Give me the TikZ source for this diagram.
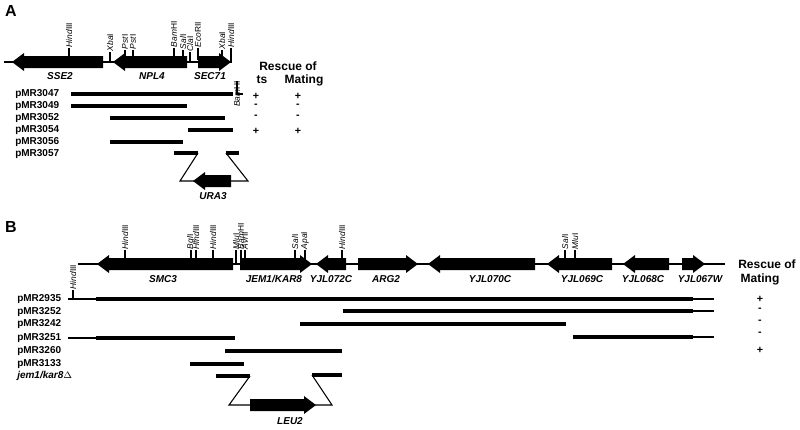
\documentclass[tikz,border=0pt]{standalone}
\usepackage{fontspec}
\setmainfont{Liberation Sans}
\begin{document}
\begin{tikzpicture}[x=0.75pt,y=-0.75pt,
  lab/.style={font=\fontsize{7.5}{8}\selectfont\bfseries,inner sep=0pt},
  gene/.style={font=\fontsize{7.5}{8}\selectfont\bfseries\itshape,inner sep=0pt},
  site/.style={font=\fontsize{6.3}{6.3}\selectfont\itshape,rotate=90,anchor=west,inner sep=0.5pt},
  big/.style={font=\fontsize{9}{10}\selectfont\bfseries,inner sep=0pt},
  sign/.style={font=\fontsize{8}{8}\selectfont\bfseries,inner sep=0pt},
  fatline/.style={line width=2.6pt},
  hairline/.style={line width=0.8pt}]
\useasboundingbox (0,0) rectangle (800,429);
\newcommand\gR[3]{\fill ({#1},{#3-6}) -- ({#2-12},{#3-6}) -- ({#2-12},{#3-9}) -- ({#2},{#3}) -- ({#2-12},{#3+9}) -- ({#2-12},{#3+6}) -- ({#1},{#3+6}) -- cycle;}
\newcommand\gL[3]{\fill ({#1},{#3-6}) -- ({#2+12},{#3-6}) -- ({#2+12},{#3-9}) -- ({#2},{#3}) -- ({#2+12},{#3+9}) -- ({#2+12},{#3+6}) -- ({#1},{#3+6}) -- cycle;}
\newcommand\site[4]{\draw[hairline] (#1,#2) -- (#1,#3); \node[site] at (#1,#3) {#4};}
% ---------- A ----------
\node[font=\fontsize{12}{13}\selectfont\bfseries] at (11,11) {A};
\draw[line width=1.6pt] (4,62) -- (232,62);
\gL{103}{12}{62}
\gL{187}{113}{62}
\gR{198}{231}{62}
\site{69}{58}{48}{Hind\upshape III}
\site{110}{62}{52}{Xba\upshape I}
\site{125}{58}{50}{Pst\upshape I}
\site{133}{58}{50}{Pst\upshape I}
\site{174}{58}{48}{Bam\upshape HI}
\site{183}{58}{50}{Sal\upshape I}
\site{190}{62}{52}{Cla\upshape I}
\site{198}{60}{48}{Eco\upshape RII}
\site{222}{58}{50}{Xba\upshape I}
\site{231}{62}{48}{Hind\upshape III}
\node[gene] at (60,76) {SSE2};
\node[gene] at (152,76) {NPL4};
\node[gene] at (210,76) {SEC71};
\node[site,anchor=east] at (237,80) {Bam\upshape HI};
\draw[hairline] (237,81) -- (237,94) -- (243,94);
\node[big] at (288,66) {Rescue of};
\node[big] at (262,80) {ts};
\node[big] at (304,80) {Mating};
\foreach \t/\y in {pMR3047/94,pMR3049/106,pMR3052/118,pMR3054/130,pMR3056/142,pMR3057/154}
  \node[lab,anchor=west] at (15,\y) {\t};
\draw[fatline] (71,94) -- (233,94);
\draw[fatline] (71,106) -- (187,106);
\draw[fatline] (110,118) -- (225,118);
\draw[fatline] (188,130) -- (233,130);
\draw[fatline] (110,142) -- (183,142);
\draw[fatline] (174,153) -- (198,153);
\draw[fatline] (226,153) -- (239,153);
\draw[hairline] (198,153) -- (180,181) -- (248,181) -- (226,153);
\gL{231}{193}{181}
\node[gene] at (213,196) {URA3};
\foreach \s/\y in {+/96,-/106,-/117,+/131} {\node[sign] at (256,\y) {\s}; \node[sign] at (298,\y) {\s};}
% ---------- B ----------
\node[font=\fontsize{12}{13}\selectfont\bfseries] at (11,227) {B};
\draw[line width=1.6pt] (78,264) -- (725,264);
\gL{233}{97}{264}
\gR{240}{312}{264}
\gL{346}{316}{264}
\gR{358}{418}{264}
\gL{535}{428}{264}
\gL{612}{547}{264}
\gL{669}{623}{264}
\gR{682}{705}{264}
\site{125}{260}{250}{Hind\upshape III}
\site{191}{260}{250}{Bgl\upshape I}
\site{196}{260}{250}{Hind\upshape III}
\site{213}{260}{250}{Hind\upshape III}
\site{236}{264}{250}{Mlu\upshape I}
\site{241}{264}{250}{Bam\upshape HI}
\site{245}{264}{250}{Avr\upshape II}
\site{295}{260}{250}{Sal\upshape I}
\site{305}{262}{250}{Apa\upshape I}
\site{342}{260}{250}{Hind\upshape III}
\site{565}{260}{250}{Sal\upshape I}
\site{575}{260}{250}{Mlu\upshape I}
\node[gene] at (163,279) {SMC3};
\node[gene] at (274,279) {JEM1/KAR8};
\node[gene] at (331,279) {YJL072C};
\node[gene] at (386,279) {ARG2};
\node[gene] at (490,279) {YJL070C};
\node[gene] at (582,279) {YJL069C};
\node[gene] at (643,279) {YJL068C};
\node[gene] at (700,279) {YJL067W};
\node[site] at (73,290) {Hind\upshape III};
\draw[hairline] (73,290) -- (73,299);
\node[big] at (767,264) {Rescue of};
\node[big] at (760,279) {Mating};
\foreach \t/\y in {pMR2935/299,pMR3252/312,pMR3242/324,pMR3251/338,pMR3260/351,pMR3133/364}
  \node[lab,anchor=west] at (17,\y) {\t};
\node[gene,anchor=west] at (17,376) {jem1/kar8$\Delta$};
\draw[hairline] (68,299) -- (96,299); \draw[fatline] (96,299) -- (693,299); \draw[hairline] (693,299) -- (714,299);
\draw[fatline] (343,311) -- (693,311); \draw[hairline] (693,311) -- (714,311);
\draw[fatline] (300,324) -- (566,324);
\draw[hairline] (68,338) -- (96,338); \draw[fatline] (96,338) -- (235,338);
\draw[fatline] (573,337) -- (693,337); \draw[hairline] (693,337) -- (714,337);
\draw[fatline] (225,351) -- (342,351);
\draw[fatline] (190,364) -- (244,364);
\draw[fatline] (216,376) -- (250,376);
\draw[fatline] (312,375) -- (342,375);
\draw[hairline] (250,376) -- (229,405) -- (332,405) -- (312,375);
\gR{250}{316}{405}
\node[gene] at (290,421) {LEU2};
\foreach \s/\y in {+/299,-/310,-/322,-/334,+/350} \node[sign] at (760,\y) {\s};
\end{tikzpicture}
\end{document}
